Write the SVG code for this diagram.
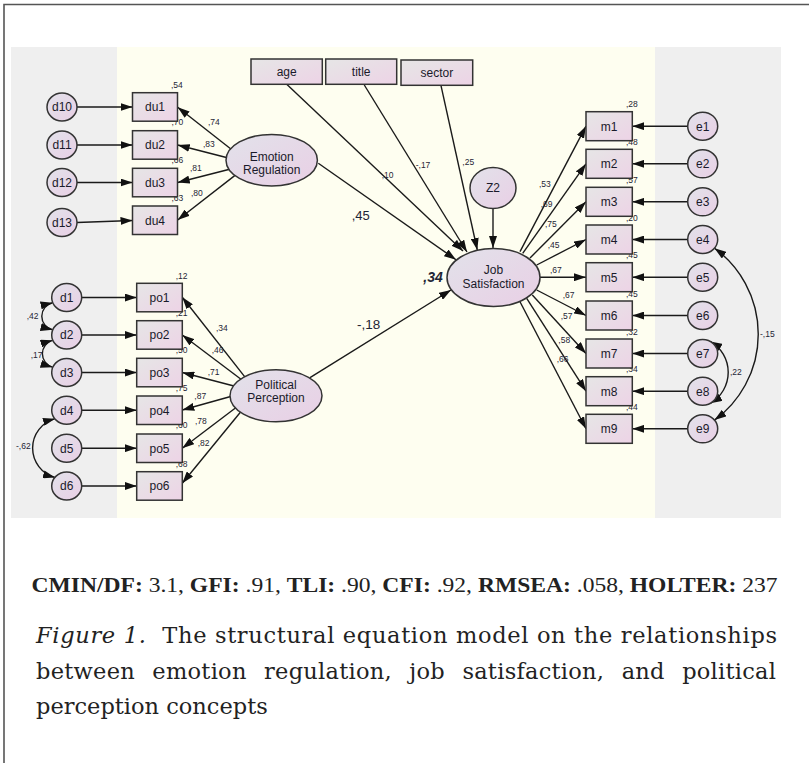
<svg xmlns="http://www.w3.org/2000/svg" width="809" height="763" viewBox="0 0 809 763">
<defs>
<style>
.box{fill:url(#gr);stroke:#333;stroke-width:1.5}
.ell{fill:url(#ge);stroke:#333;stroke-width:1.5}
.lbl{font-family:"Liberation Sans",Arial,sans-serif;font-size:12px;fill:#1a1a2a;text-anchor:middle}
.c{font-family:"Liberation Sans",Arial,sans-serif;font-size:8.5px;fill:#1e2536}
.ar{stroke:#1a1a1a;stroke-width:1.4;fill:none;marker-end:url(#ah)}
.cv{stroke:#1a1a1a;stroke-width:1.4;fill:none;marker-start:url(#ah);marker-end:url(#ah)}
.cap{font-family:"DejaVu Serif","Liberation Serif",serif;font-size:22.5px;fill:#222}
</style>
<linearGradient id="gr" x1="0" y1="0" x2="1" y2="1">
<stop offset="0" stop-color="#e6e6e6"/><stop offset="1" stop-color="#edd3e6"/>
</linearGradient>
<linearGradient id="ge" x1="0" y1="0" x2="1" y2="1">
<stop offset="0" stop-color="#e2e2ea"/><stop offset="1" stop-color="#e9cfe5"/>
</linearGradient>
<marker id="ah" viewBox="0 0 12 8" refX="12" refY="4" markerWidth="12" markerHeight="8" markerUnits="userSpaceOnUse" orient="auto-start-reverse">
<path d="M0,0 L12,4 L0,8 z" fill="#111"/>
</marker>
</defs>
<rect x="0" y="0" width="809" height="763" fill="#fff"/>
<path d="M4,763 V4.5 H809" fill="none" stroke="#555" stroke-width="1.6"/>
<rect x="11" y="47" width="106" height="471" fill="#efefef"/>
<rect x="117" y="47" width="538" height="471" fill="#fefef0"/>
<rect x="655" y="47" width="126" height="471" fill="#efefef"/>

<g id="connectors">
<line class="ar" x1="77" y1="107" x2="132.5" y2="107"/>
<line class="ar" x1="77" y1="145" x2="132.5" y2="145"/>
<line class="ar" x1="77" y1="182.5" x2="132.5" y2="182.5"/>
<line class="ar" x1="77" y1="222.5" x2="132.5" y2="220.5"/>
<line class="ar" x1="81.7" y1="297.5" x2="136.7" y2="297.5"/>
<line class="ar" x1="81.7" y1="335" x2="136.7" y2="335"/>
<line class="ar" x1="81.7" y1="372.5" x2="136.7" y2="372.5"/>
<line class="ar" x1="81.7" y1="410.2" x2="136.7" y2="410.2"/>
<line class="ar" x1="81.7" y1="448.2" x2="136.7" y2="448.2"/>
<line class="ar" x1="81.7" y1="486" x2="136.7" y2="486"/>
<line class="ar" x1="236.3" y1="153.2" x2="177.7" y2="107.3"/>
<line class="ar" x1="233.2" y1="159.3" x2="177.7" y2="145"/>
<line class="ar" x1="234.5" y1="168" x2="177.7" y2="182.5"/>
<line class="ar" x1="236.3" y1="174.4" x2="177.7" y2="220"/>
<line class="ar" x1="246.2" y1="378.6" x2="182.3" y2="297.3"/>
<line class="ar" x1="242" y1="380" x2="182.3" y2="335"/>
<line class="ar" x1="239.7" y1="387.5" x2="182.3" y2="372.5"/>
<line class="ar" x1="239.6" y1="394" x2="182.3" y2="410"/>
<line class="ar" x1="243" y1="402.3" x2="182.3" y2="448.3"/>
<line class="ar" x1="246.3" y1="405" x2="182.3" y2="483.3"/>
<line class="ar" x1="286.7" y1="84.3" x2="463" y2="251"/>
<line class="ar" x1="364.3" y1="85" x2="467" y2="252"/>
<line class="ar" x1="441" y1="85.7" x2="477.3" y2="250"/>
<line class="ar" x1="318.3" y1="163.3" x2="456" y2="259.7"/>
<line class="ar" x1="493" y1="208.5" x2="493" y2="248"/>
<line class="ar" x1="310" y1="377.6" x2="451" y2="290"/>
<line class="ar" x1="520" y1="251.7" x2="586" y2="126.2"/>
<line class="ar" x1="522.7" y1="253.3" x2="586" y2="163.8"/>
<line class="ar" x1="530" y1="258" x2="586" y2="201.8"/>
<line class="ar" x1="536.7" y1="265" x2="586" y2="239.5"/>
<line class="ar" x1="539.5" y1="277.2" x2="586" y2="277.2"/>
<line class="ar" x1="536.7" y1="290" x2="586" y2="315.5"/>
<line class="ar" x1="532.3" y1="295" x2="586" y2="353.5"/>
<line class="ar" x1="526.7" y1="298.3" x2="586" y2="391.2"/>
<line class="ar" x1="520" y1="301.7" x2="586" y2="428.8"/>
<line class="ar" x1="687.7" y1="126.2" x2="632.3" y2="126.2"/>
<line class="ar" x1="687.7" y1="163.8" x2="632.3" y2="163.8"/>
<line class="ar" x1="687.7" y1="201.8" x2="632.3" y2="201.8"/>
<line class="ar" x1="687.7" y1="239.5" x2="632.3" y2="239.5"/>
<line class="ar" x1="687.7" y1="277.2" x2="632.3" y2="277.2"/>
<line class="ar" x1="687.7" y1="315.5" x2="632.3" y2="315.5"/>
<line class="ar" x1="687.7" y1="353.5" x2="632.3" y2="353.5"/>
<line class="ar" x1="687.7" y1="391.2" x2="632.3" y2="391.2"/>
<line class="ar" x1="687.7" y1="428.8" x2="632.3" y2="428.8"/>
<path class="cv" d="M52.5,302.8 A13.8,13.8 0 0 0 52.5,329.7"/>
<path class="cv" d="M52.5,340.3 A14,14 0 0 0 52.5,367.2"/>
<path class="cv" d="M55,418.7 A30.5,30.5 0 0 0 55,477.5"/>
<path class="cv" d="M714.5,248.2 A106.3,106.3 0 0 1 714.5,420.1"/>
<path class="cv" d="M710.2,341.4 A35.6,35.6 0 0 1 710.2,403.3"/>
</g>

<g id="labels">
<text class="c" x="171" y="87.5">,54</text>
<text class="c" x="208" y="124.5">,74</text>
<text class="c" x="171.5" y="125">,70</text>
<text class="c" x="203" y="147">,83</text>
<text class="c" x="171.5" y="162.7">,66</text>
<text class="c" x="190" y="171.3">,81</text>
<text class="c" x="171.5" y="201">,63</text>
<text class="c" x="191" y="196">,80</text>
<text class="c" x="175.7" y="278.5">,12</text>
<text class="c" x="175.7" y="316.3">,21</text>
<text class="c" x="216" y="331">,34</text>
<text class="c" x="211.7" y="352.5">,46</text>
<text class="c" x="175.7" y="353.3">,50</text>
<text class="c" x="207.7" y="375">,71</text>
<text class="c" x="175.7" y="390.8">,75</text>
<text class="c" x="194.3" y="399.3">,87</text>
<text class="c" x="195" y="424.3">,78</text>
<text class="c" x="175.7" y="428.3">,60</text>
<text class="c" x="197.7" y="446">,82</text>
<text class="c" x="175.7" y="467.3">,68</text>
<text class="c" x="381.7" y="178">,10</text>
<text class="c" x="415.7" y="167.5">-,17</text>
<text class="c" x="462.3" y="165">,25</text>
<text class="c" x="351.7" y="220" style="font-size:13px">,45</text>
<text class="c" x="423.3" y="281.5" style="font-size:14px;font-weight:bold;font-style:italic">,34</text>
<text class="c" x="357" y="329" style="font-size:13.5px">-,18</text>
<text class="c" x="626" y="107.4">,28</text>
<text class="c" x="626" y="145">,48</text>
<text class="c" x="626" y="183">,57</text>
<text class="c" x="626" y="220.7">,20</text>
<text class="c" x="626" y="258.4">,45</text>
<text class="c" x="626" y="296.7">,45</text>
<text class="c" x="626" y="334.7">,32</text>
<text class="c" x="626" y="372.4">,34</text>
<text class="c" x="626" y="410">,44</text>
<text class="c" x="539" y="186.7">,53</text>
<text class="c" x="540.7" y="207.3">,69</text>
<text class="c" x="545" y="226.7">,75</text>
<text class="c" x="547.7" y="247.7">,45</text>
<text class="c" x="550" y="272.7">,67</text>
<text class="c" x="562.7" y="297.7">,67</text>
<text class="c" x="560.7" y="319.3">,57</text>
<text class="c" x="558.3" y="342.7">,58</text>
<text class="c" x="556.7" y="362">,66</text>
<text class="c" x="26.7" y="318.5">,42</text>
<text class="c" x="30.7" y="357.5">,17</text>
<text class="c" x="16" y="448.5">-,62</text>
<text class="c" x="760" y="337">-,15</text>
<text class="c" x="730" y="375">,22</text>
</g>

<g id="d10"><ellipse class="ell" cx="62" cy="107" rx="15" ry="14"/><text class="lbl" x="62" y="111.3">d10</text></g>
<g id="d11"><ellipse class="ell" cx="62" cy="145" rx="15" ry="14"/><text class="lbl" x="62" y="149.3">d11</text></g>
<g id="d12"><ellipse class="ell" cx="62" cy="182.5" rx="15" ry="14"/><text class="lbl" x="62" y="186.8">d12</text></g>
<g id="d13"><ellipse class="ell" cx="62" cy="222.5" rx="15" ry="14"/><text class="lbl" x="62" y="226.8">d13</text></g>
<g id="du1"><rect class="box" x="132.5" y="92.7" width="45" height="28.5"/><text class="lbl" x="155" y="111.3">du1</text></g>
<g id="du2"><rect class="box" x="132.5" y="130.7" width="45" height="28.5"/><text class="lbl" x="155" y="149.3">du2</text></g>
<g id="du3"><rect class="box" x="132.5" y="168.3" width="45" height="28.5"/><text class="lbl" x="155" y="186.8">du3</text></g>
<g id="du4"><rect class="box" x="132.5" y="206" width="45" height="28.5"/><text class="lbl" x="155" y="224.5">du4</text></g>
<g id="emotion"><ellipse class="ell" cx="271.7" cy="160.2" rx="45.7" ry="25.8"/><text class="lbl" x="271.7" y="160.8">Emotion</text><text class="lbl" x="271.7" y="174.3">Regulation</text></g>

<g id="d1"><ellipse class="ell" cx="66.7" cy="297.5" rx="15" ry="14"/><text class="lbl" x="66.7" y="301.8">d1</text></g>
<g id="d2"><ellipse class="ell" cx="66.7" cy="335" rx="15" ry="14"/><text class="lbl" x="66.7" y="339.3">d2</text></g>
<g id="d3"><ellipse class="ell" cx="66.7" cy="372.5" rx="15" ry="14"/><text class="lbl" x="66.7" y="376.8">d3</text></g>
<g id="d4"><ellipse class="ell" cx="66.7" cy="410.2" rx="15" ry="14"/><text class="lbl" x="66.7" y="414.5">d4</text></g>
<g id="d5"><ellipse class="ell" cx="66.7" cy="448.2" rx="15" ry="14"/><text class="lbl" x="66.7" y="452.5">d5</text></g>
<g id="d6"><ellipse class="ell" cx="66.7" cy="486" rx="15" ry="14"/><text class="lbl" x="66.7" y="490.3">d6</text></g>
<g id="po1"><rect class="box" x="136.7" y="283.3" width="45.6" height="28.5"/><text class="lbl" x="159.5" y="301.8">po1</text></g>
<g id="po2"><rect class="box" x="136.7" y="320.7" width="45.6" height="28.5"/><text class="lbl" x="159.5" y="339.3">po2</text></g>
<g id="po3"><rect class="box" x="136.7" y="358.3" width="45.6" height="28.5"/><text class="lbl" x="159.5" y="376.8">po3</text></g>
<g id="po4"><rect class="box" x="136.7" y="396" width="45.6" height="28.5"/><text class="lbl" x="159.5" y="414.5">po4</text></g>
<g id="po5"><rect class="box" x="136.7" y="434" width="45.6" height="28.5"/><text class="lbl" x="159.5" y="452.5">po5</text></g>
<g id="po6"><rect class="box" x="136.7" y="471.7" width="45.6" height="28.5"/><text class="lbl" x="159.5" y="490.3">po6</text></g>
<g id="political"><ellipse class="ell" cx="276" cy="395.8" rx="46" ry="26"/><text class="lbl" x="276" y="388.8">Political</text><text class="lbl" x="276" y="402.3">Perception</text></g>

<g id="age"><rect class="box" x="251" y="59" width="71.3" height="25.3"/><text class="lbl" x="286.7" y="75.5">age</text></g>
<g id="title"><rect class="box" x="325.7" y="59" width="71" height="25.3"/><text class="lbl" x="361.2" y="75.5">title</text></g>
<g id="sector"><rect class="box" x="401" y="60" width="71.7" height="25.3"/><text class="lbl" x="436.8" y="76.5">sector</text></g>
<g id="z2"><ellipse class="ell" cx="493" cy="188" rx="23" ry="20.5"/><text class="lbl" x="493" y="192.3">Z2</text></g>
<g id="job"><ellipse class="ell" cx="493.5" cy="277.5" rx="46.5" ry="29"/><text class="lbl" x="493.5" y="274.2">Job</text><text class="lbl" x="493.5" y="287.7">Satisfaction</text></g>

<g id="m1"><rect class="box" x="586" y="111.7" width="46.3" height="29"/><text class="lbl" x="609.2" y="130.5">m1</text></g>
<g id="m2"><rect class="box" x="586" y="149.3" width="46.3" height="29"/><text class="lbl" x="609.2" y="168.1">m2</text></g>
<g id="m3"><rect class="box" x="586" y="187.3" width="46.3" height="29"/><text class="lbl" x="609.2" y="206.1">m3</text></g>
<g id="m4"><rect class="box" x="586" y="225" width="46.3" height="29"/><text class="lbl" x="609.2" y="243.8">m4</text></g>
<g id="m5"><rect class="box" x="586" y="262.7" width="46.3" height="29"/><text class="lbl" x="609.2" y="281.5">m5</text></g>
<g id="m6"><rect class="box" x="586" y="301" width="46.3" height="29"/><text class="lbl" x="609.2" y="319.8">m6</text></g>
<g id="m7"><rect class="box" x="586" y="339" width="46.3" height="29"/><text class="lbl" x="609.2" y="357.8">m7</text></g>
<g id="m8"><rect class="box" x="586" y="376.7" width="46.3" height="29"/><text class="lbl" x="609.2" y="395.5">m8</text></g>
<g id="m9"><rect class="box" x="586" y="414.3" width="46.3" height="29"/><text class="lbl" x="609.2" y="433.1">m9</text></g>
<g id="e1"><ellipse class="ell" cx="702.7" cy="126.2" rx="15" ry="14"/><text class="lbl" x="702.7" y="130.5">e1</text></g>
<g id="e2"><ellipse class="ell" cx="702.7" cy="163.8" rx="15" ry="14"/><text class="lbl" x="702.7" y="168.1">e2</text></g>
<g id="e3"><ellipse class="ell" cx="702.7" cy="201.8" rx="15" ry="14"/><text class="lbl" x="702.7" y="206.1">e3</text></g>
<g id="e4"><ellipse class="ell" cx="702.7" cy="239.5" rx="15" ry="14"/><text class="lbl" x="702.7" y="243.8">e4</text></g>
<g id="e5"><ellipse class="ell" cx="702.7" cy="277.2" rx="15" ry="14"/><text class="lbl" x="702.7" y="281.5">e5</text></g>
<g id="e6"><ellipse class="ell" cx="702.7" cy="315.5" rx="15" ry="14"/><text class="lbl" x="702.7" y="319.8">e6</text></g>
<g id="e7"><ellipse class="ell" cx="702.7" cy="353.5" rx="15" ry="14"/><text class="lbl" x="702.7" y="357.8">e7</text></g>
<g id="e8"><ellipse class="ell" cx="702.7" cy="391.2" rx="15" ry="14"/><text class="lbl" x="702.7" y="395.5">e8</text></g>
<g id="e9"><ellipse class="ell" cx="702.7" cy="428.8" rx="15" ry="14"/><text class="lbl" x="702.7" y="433.1">e9</text></g>

<g id="caption">
<text x="31.5" y="591.7" font-family="Liberation Serif, serif" font-size="21.5" fill="#222" textLength="746" lengthAdjust="spacingAndGlyphs"><tspan font-weight="bold">CMIN/DF:</tspan> 3.1, <tspan font-weight="bold">GFI:</tspan> .91, <tspan font-weight="bold">TLI:</tspan> .90, <tspan font-weight="bold">CFI:</tspan> .92, <tspan font-weight="bold">RMSEA:</tspan> .058, <tspan font-weight="bold">HOLTER:</tspan> 237</text>
<text class="cap" x="36" y="643.3" textLength="741" lengthAdjust="spacing"><tspan font-style="italic">Figure 1.</tspan><tspan dx="8"> The structural equation model on the relationships</tspan></text>
<text class="cap" x="36" y="679.3" textLength="740" lengthAdjust="spacing" word-spacing="10">between emotion regulation, job satisfaction, and political</text>
<text class="cap" x="36" y="714.3">perception concepts</text>
</g>
</svg>
